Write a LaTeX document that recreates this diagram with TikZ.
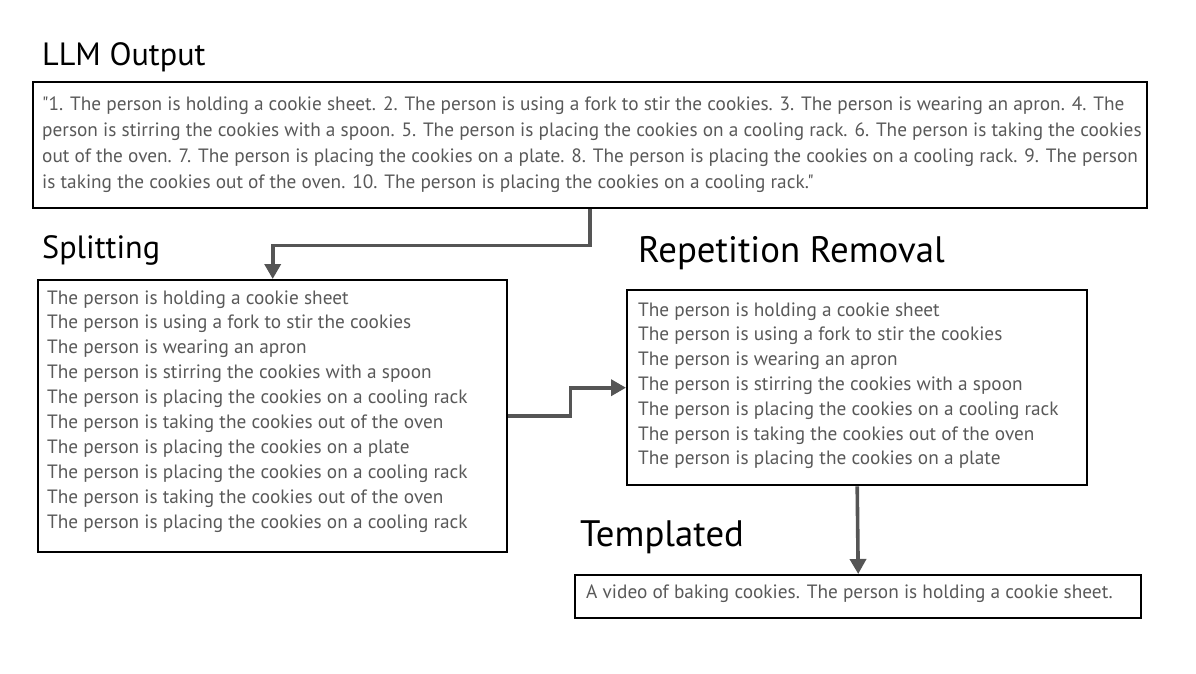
\documentclass[tikz,border=0pt]{standalone}
\usepackage{fontspec}
\setmainfont{PT Sans}[Ligatures=TeXOff]
\usetikzlibrary{arrows.meta}
\definecolor{txtgray}{HTML}{595959}
\definecolor{arrgray}{HTML}{555555}
\tikzset{
  box/.style={draw=black, line width=2.4pt, rectangle, inner sep=0pt, anchor=north west},
  title/.style={anchor=base west, inner sep=0pt, text=black, font=\fontsize{32.2}{38}\selectfont},
  bigtitle/.style={anchor=base west, inner sep=0pt, text=black, font=\fontsize{36.8}{42}\selectfont},
  body/.style={anchor=base west, inner sep=0pt, text=txtgray, font=\fontsize{19.3}{24}\selectfont},
  arr/.style={draw=arrgray, line width=3.6pt, -{Triangle[length=15pt,width=16pt]}}
}
\begin{document}
\begin{tikzpicture}[x=1pt,y=-1pt]
\useasboundingbox (0,0) rectangle (1196,673);
% titles
\node[title] (t1) at (42,65) {LLM Output};
\node[title] (t2) at (42,258) {Splitting};
\node[bigtitle] (t3) at (638,262) {Repetition Removal};
\node[bigtitle] (t4) at (580,546) {Templated};
% boxes
\node[box, minimum width=1114pt, minimum height=126pt] (llm) at (32,81) {};
\node[box, minimum width=469pt, minimum height=272pt] (split) at (37,279) {};
\node[box, minimum width=460pt, minimum height=195pt] (rep) at (626,289) {};
\node[box, minimum width=566pt, minimum height=43pt] (templ) at (574,574) {};
% texts
\foreach \t [count=\i] in {
  {"1. The person is holding a cookie sheet. 2. The person is using a fork to stir the cookies. 3. The person is wearing an apron. 4. The},
  {person is stirring the cookies with a spoon. 5. The person is placing the cookies on a cooling rack. 6. The person is taking the cookies},
  {out of the oven. 7. The person is placing the cookies on a plate. 8. The person is placing the cookies on a cooling rack. 9. The person},
  {is taking the cookies out of the oven. 10. The person is placing the cookies on a cooling rack."}}
  \node[body] (llm\i) at (42,{110+26*(\i-1)}) {\t};
\foreach \t [count=\i] in {
  The person is holding a cookie sheet,
  The person is using a fork to stir the cookies,
  The person is wearing an apron,
  The person is stirring the cookies with a spoon,
  The person is placing the cookies on a cooling rack,
  The person is taking the cookies out of the oven,
  The person is placing the cookies on a plate,
  The person is placing the cookies on a cooling rack,
  The person is taking the cookies out of the oven,
  The person is placing the cookies on a cooling rack}
  \node[body] (split\i) at (47,{304+24.9*(\i-1)}) {\t};
\foreach \t [count=\i] in {
  The person is holding a cookie sheet,
  The person is using a fork to stir the cookies,
  The person is wearing an apron,
  The person is stirring the cookies with a spoon,
  The person is placing the cookies on a cooling rack,
  The person is taking the cookies out of the oven,
  The person is placing the cookies on a plate}
  \node[body] (rep\i) at (638,{316+24.8*(\i-1)}) {\t};
\node[body] (templtxt) at (586,598) {A video of baking cookies. The person is holding a cookie sheet.};
% arrows
\draw[arr] (llm.south) -- ++(0,36) -| (split.north);
\draw[arr] (split.east) -- ++(62,0) |- (rep.west);
\draw[arr] (rep.south) -- (templ.north);
\end{tikzpicture}
\end{document}
